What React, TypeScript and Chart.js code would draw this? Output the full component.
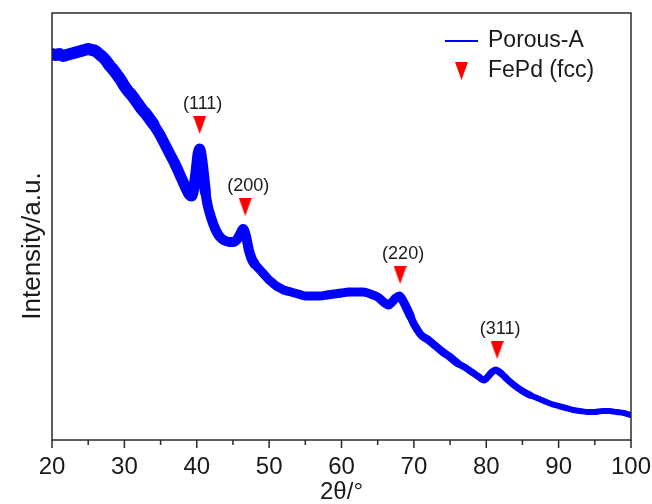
import React, { useEffect, useRef } from "react";
import { Chart, registerables } from "chart.js";

Chart.register(...registerables);

const twoTheta = [
  20.0, 20.5, 21.0, 21.5, 22.0, 22.5, 23.0, 23.5, 24.0, 24.5, 25.0, 25.5, 26.0, 26.5, 27.0, 27.5,
  28.0, 28.5, 29.0, 29.5, 30.0, 30.5, 31.0, 31.5, 32.0, 32.5, 33.0, 33.5, 34.0, 34.5, 35.0, 35.5,
  36.0, 36.5, 37.0, 37.5, 38.0, 38.5, 39.0, 39.3, 39.6, 39.9, 40.2, 40.4, 40.6, 40.9, 41.2, 41.5,
  42.0, 42.5, 43.0, 43.5, 44.0, 44.5, 45.0, 45.5, 46.0, 46.4, 46.8, 47.2, 47.6, 48.0, 48.5, 49.0,
  49.5, 50.0, 50.5, 51.0, 51.5, 52.0, 53.0, 54.0, 55.0, 56.0, 57.0, 58.0, 59.0, 60.0, 61.0, 62.0,
  63.0, 64.0, 65.0, 65.5, 66.0, 66.5, 67.0, 67.5, 68.0, 68.5, 69.0, 69.5, 70.0, 70.5, 71.0, 72.0,
  73.0, 74.0, 75.0, 76.0, 77.0, 78.0, 79.0, 79.7, 80.3, 80.8, 81.3, 81.8, 82.3, 83.0, 84.0, 85.0,
  86.0, 87.0, 88.0, 89.0, 90.0, 91.0, 92.0, 93.0, 94.0, 95.0, 96.0, 97.0, 98.0, 99.0, 100.0,
];
const intensity = [
  386, 385, 386, 384, 385, 386, 387, 388, 389, 390, 391, 390, 389, 386, 383, 379,
  374, 370, 365, 360, 354, 349, 345, 340, 335, 330, 326, 321, 316, 310, 304, 297,
  290, 283, 276, 268, 260, 252, 245, 244, 252, 268, 287, 291, 285, 268, 248, 235,
  222, 212, 205, 201, 199, 198, 198, 200, 206, 211, 204, 190, 181, 176, 172, 168,
  164, 160, 157, 154, 152, 150, 148, 146, 144, 144, 144, 145, 146, 147, 148, 148,
  148, 146, 143, 140, 137, 135, 138, 142, 144, 139, 132, 124, 116, 110, 105, 100,
  94, 88, 83, 77, 73, 68, 63, 60, 64, 68, 70, 68, 65, 60, 54, 49,
  45, 42, 39, 36, 34, 32, 30, 29, 28, 28, 29, 29, 28, 27, 25,
];

// FePd (fcc) reflections
const peakTwoTheta = [40.4, 46.7, 68.1, 81.5];
const peakMarkerLevel = [315, 233, 165, 90];
const peakLabels = ["(111)", "(200)", "(220)", "(311)"];

const xMajorTicks = [20, 30, 40, 50, 60, 70, 80, 90, 100];
const xMinorTicks = [25, 35, 45, 55, 65, 75, 85, 95];

const seriesNames = ["Porous-A", "FePd (fcc)"];
const xTitle = "2θ/°";
const yTitle = "Intensity/a.u.";

const FONT = '"Liberation Sans", Arial, Helvetica, sans-serif';
const BLUE = "#0000ff";
const RED = "#ff0000";
const INK = "#1a1a1a";

function makeTriangle(): HTMLCanvasElement {
  const c = document.createElement("canvas");
  c.width = 13;
  c.height = 18;
  const g = c.getContext("2d")!;
  g.fillStyle = RED;
  g.beginPath();
  g.moveTo(0, 0);
  g.lineTo(13, 0);
  g.lineTo(6.5, 18);
  g.closePath();
  g.fill();
  return c;
}

export default function App() {
  const ref = useRef<HTMLCanvasElement | null>(null);

  useEffect(() => {
    if (!ref.current) return;
    const tri = makeTriangle();

    const decor = {
      id: "decor",
      afterDatasetsDraw(chart: any) {
        const { ctx } = chart;
        const meta = chart.getDatasetMeta(1);
        ctx.save();
        ctx.fillStyle = INK;
        ctx.font = `18px ${FONT}`;
        ctx.textAlign = "center";
        ctx.textBaseline = "middle";
        meta.data.forEach((el: any, i: number) => {
          ctx.fillText(peakLabels[i], el.x + 3, el.y - 21);
        });
        ctx.restore();
      },
      afterDraw(chart: any) {
        const { ctx, chartArea: a, scales } = chart;
        ctx.save();
        ctx.strokeStyle = "#2a2a2a";
        ctx.lineWidth = 1.5;
        ctx.strokeRect(a.left, a.top, a.right - a.left, a.bottom - a.top);
        ctx.beginPath();
        xMajorTicks.forEach((v) => {
          const px = scales.x.getPixelForValue(v);
          ctx.moveTo(px, a.bottom);
          ctx.lineTo(px, a.bottom + 8);
        });
        xMinorTicks.forEach((v) => {
          const px = scales.x.getPixelForValue(v);
          ctx.moveTo(px, a.bottom);
          ctx.lineTo(px, a.bottom + 5);
        });
        ctx.stroke();

        // legend
        ctx.strokeStyle = BLUE;
        ctx.lineWidth = 2;
        ctx.beginPath();
        ctx.moveTo(445, 41);
        ctx.lineTo(478, 41);
        ctx.stroke();
        ctx.drawImage(tri, 455, 62);
        ctx.fillStyle = INK;
        ctx.font = `23px ${FONT}`;
        ctx.textAlign = "left";
        ctx.textBaseline = "middle";
        ctx.fillText(seriesNames[0], 488, 41);
        ctx.fillText(seriesNames[1], 488, 71);

        // y title
        ctx.translate(33, 246);
        ctx.rotate(-Math.PI / 2);
        ctx.font = `26px ${FONT}`;
        ctx.textAlign = "center";
        ctx.fillText(yTitle, 0, 0);
        ctx.restore();
      },
    };

    const chart = new Chart(ref.current, {
      type: "line",
      data: {
        datasets: [
          {
            label: seriesNames[0],
            data: twoTheta.map((t, i) => ({ x: t, y: intensity[i] })),
            borderColor: BLUE,
            borderWidth: 9,
            borderCapStyle: "round",
            borderJoinStyle: "round",
            pointRadius: 0,
            cubicInterpolationMode: "monotone",
            segment: {
              borderWidth: (c: any) =>
                Math.round(3.5 + 0.45 * Math.sqrt((c.p0.parsed.y + c.p1.parsed.y) / 2)),
            },
          } as any,
          {
            label: seriesNames[1],
            data: peakTwoTheta.map((t, i) => ({ x: t, y: peakMarkerLevel[i] })),
            showLine: false,
            pointStyle: tri as any,
            pointRadius: 8,
            pointHoverRadius: 8,
          } as any,
        ],
      },
      options: {
        responsive: false,
        animation: false,
        events: [],
        layout: { padding: { left: 0, right: 21, top: 13, bottom: 0 } },
        plugins: { legend: { display: false }, tooltip: { enabled: false } },
        scales: {
          x: {
            type: "linear",
            min: 20,
            max: 100,
            afterFit: (s: any) => {
              s.height = 64;
              s.paddingLeft = 0;
              s.paddingRight = 0;
            },
            grid: { display: false, drawTicks: false },
            border: { display: false },
            ticks: {
              stepSize: 10,
              autoSkip: false,
              maxRotation: 0,
              padding: 13,
              color: INK,
              font: { family: FONT, size: 24 },
            },
            title: {
              display: true,
              text: xTitle,
              color: INK,
              font: { family: FONT, size: 24 },
              padding: { top: 0, bottom: -3 },
            },
          },
          y: {
            min: 0,
            max: 427,
            afterFit: (s: any) => {
              s.width = 52;
              s.paddingTop = 0;
              s.paddingBottom = 0;
            },
            grid: { display: false, drawTicks: false },
            border: { display: false },
            ticks: { display: false },
          },
        },
      },
      plugins: [decor],
    } as any);

    return () => chart.destroy();
  }, []);

  return (
    <div style={{ position: "fixed", left: 0, top: 0, width: 652, height: 504, background: "#fff" }}>
      <canvas ref={ref} width={652} height={504} />
    </div>
  );
}
